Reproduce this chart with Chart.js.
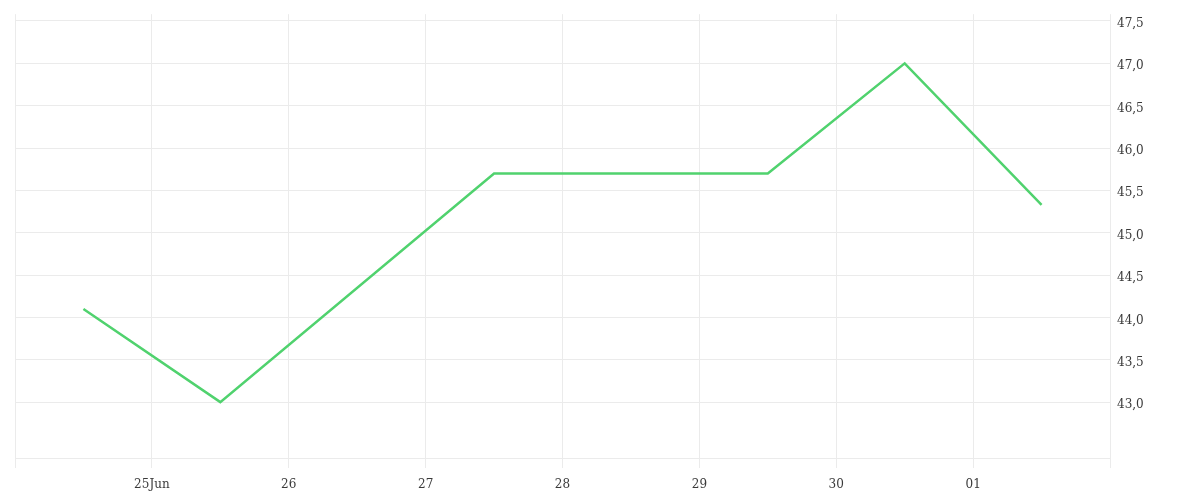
<!DOCTYPE html>
<html>
<head>
<meta charset="utf-8">
<script src="https://cdn.jsdelivr.net/npm/chart.js@4/dist/chart.umd.min.js"></script>
<style>
  html, body { margin: 0; padding: 0; background: #fff; }
  #wrap { width: 1200px; height: 500px; }
</style>
</head>
<body>
<div id="wrap"><canvas id="lineChart"></canvas></div>
<script>
// days as numbers (24 = 24 Jun, 31 = 01 Jul), points sit at noon
var pointDays = [24.5, 25.5, 27.5, 29.5, 30.5, 31.5];
var values = [44.1, 43.0, 45.7, 45.7, 47.0, 45.33];

var xTickDays = [24, 25, 26, 27, 28, 29, 30, 31, 32];
var xTickLabels = ["", "25Jun", "26", "27", "28", "29", "30", "01", ""];
var yTickValues = [43.0, 43.5, 44.0, 44.5, 45.0, 45.5, 46.0, 46.5, 47.0, 47.5];

var gridColor = "#ebebeb";
var textColor = "#3a3a3a";
var font = { family: "'DejaVu Serif', serif", size: 12 };

var chart = new Chart(document.getElementById("lineChart"), {
  type: "line",
  data: {
    datasets: [
      {
        data: pointDays.map((d, i) => ({ x: d, y: values[i] })),
        borderColor: "#50d26e",
        borderWidth: 2.5,
        pointRadius: 0,
        tension: 0,
        fill: false,
      },
    ],
  },
  options: {
    responsive: true,
    maintainAspectRatio: false,
    animation: false,
    layout: { padding: { left: 15, top: 12, right: 0, bottom: 0 } },
    plugins: { legend: { display: false }, tooltip: { enabled: false } },
    scales: {
      x: {
        type: "linear",
        min: xTickDays[0],
        max: xTickDays[xTickDays.length - 1],
        afterBuildTicks: (scale) => {
          scale.ticks = xTickDays.map((v) => ({ value: v }));
        },
        afterFit: (scale) => {
          scale.height = 42;
        },
        grid: { color: gridColor, tickLength: 10, tickColor: gridColor },
        border: { display: true, color: gridColor },
        ticks: {
          color: textColor,
          font: font,
          padding: 10,
          maxRotation: 0,
          autoSkip: false,
          callback: (v) => {
            var i = xTickDays.indexOf(v);
            return i >= 0 ? xTickLabels[i] : "";
          },
        },
      },
      y: {
        position: "right",
        min: 42.34,
        max: 47.58,
        afterBuildTicks: (scale) => {
          scale.ticks = yTickValues.map((v) => ({ value: v }));
        },
        afterFit: (scale) => {
          scale.width = 90;
        },
        grid: { color: gridColor, drawTicks: false },
        border: { display: false },
        ticks: {
          color: textColor,
          font: font,
          padding: 7,
          labelOffset: 3,
          callback: (v) => v.toFixed(1).replace(".", ","),
        },
      },
    },
  },
});
</script>
</body>
</html>
